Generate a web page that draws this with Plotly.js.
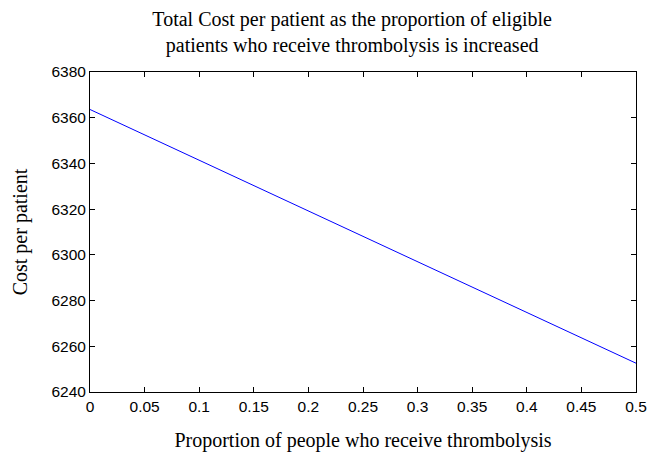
<!DOCTYPE html>
<html><head><meta charset="utf-8">
<script src="https://cdn.plot.ly/plotly-3.0.1.min.js"></script>
<style>body{margin:0;padding:0;background:#fff}#chart{width:662px;height:454px}</style>
</head><body><div id="chart"></div>
<script>
const proportion = [0, 0.25, 0.5];
const costPerPatient = [6363.6, 6308.1, 6252.6];
const xTicks = [0, 0.05, 0.1, 0.15, 0.2, 0.25, 0.3, 0.35, 0.4, 0.45, 0.5];
const yTicks = [6240, 6260, 6280, 6300, 6320, 6340, 6360, 6380];

Plotly.newPlot('chart', [{
  x: proportion, y: costPerPatient, type: 'scatter', mode: 'lines',
  line: {color: '#0000ff', width: 1}, hoverinfo: 'none'
}], {
  width: 662, height: 454,
  margin: {l: 90, r: 26, t: 72, b: 62},
  paper_bgcolor: '#fff', plot_bgcolor: '#fff',
  showlegend: false,
  title: {text: 'Total Cost per patient as the proportion of eligible<br>patients who receive thrombolysis is increased',
    font: {family: 'Liberation Serif', size: 20, color: '#000'}, x: 0.532, xanchor: 'center', y: 0.943, yanchor: 'top'},
  xaxis: {range: [0, 0.5], tickvals: xTicks, ticktext: xTicks.map(String),
    ticks: 'inside', ticklen: 5, tickcolor: '#000', mirror: 'ticks', showline: true, linecolor: '#000', linewidth: 1,
    showgrid: false, zeroline: false, tickfont: {family: 'Liberation Sans', size: 15.5, color: '#000'},
    title: {text: 'Proportion of people who receive thrombolysis', font: {family: 'Liberation Serif', size: 20, color: '#000'}, standoff: 19}},
  yaxis: {range: [6240, 6380], tickvals: yTicks, ticktext: yTicks.map(String),
    ticks: 'inside', ticklen: 5, tickcolor: '#000', mirror: 'ticks', showline: true, linecolor: '#000', linewidth: 1,
    showgrid: false, zeroline: false, tickfont: {family: 'Liberation Sans', size: 15.5, color: '#000'},
    title: {text: 'Cost per patient', font: {family: 'Liberation Serif', size: 20, color: '#000'}, standoff: 18}}
}, {staticPlot: true});
</script></body></html>
